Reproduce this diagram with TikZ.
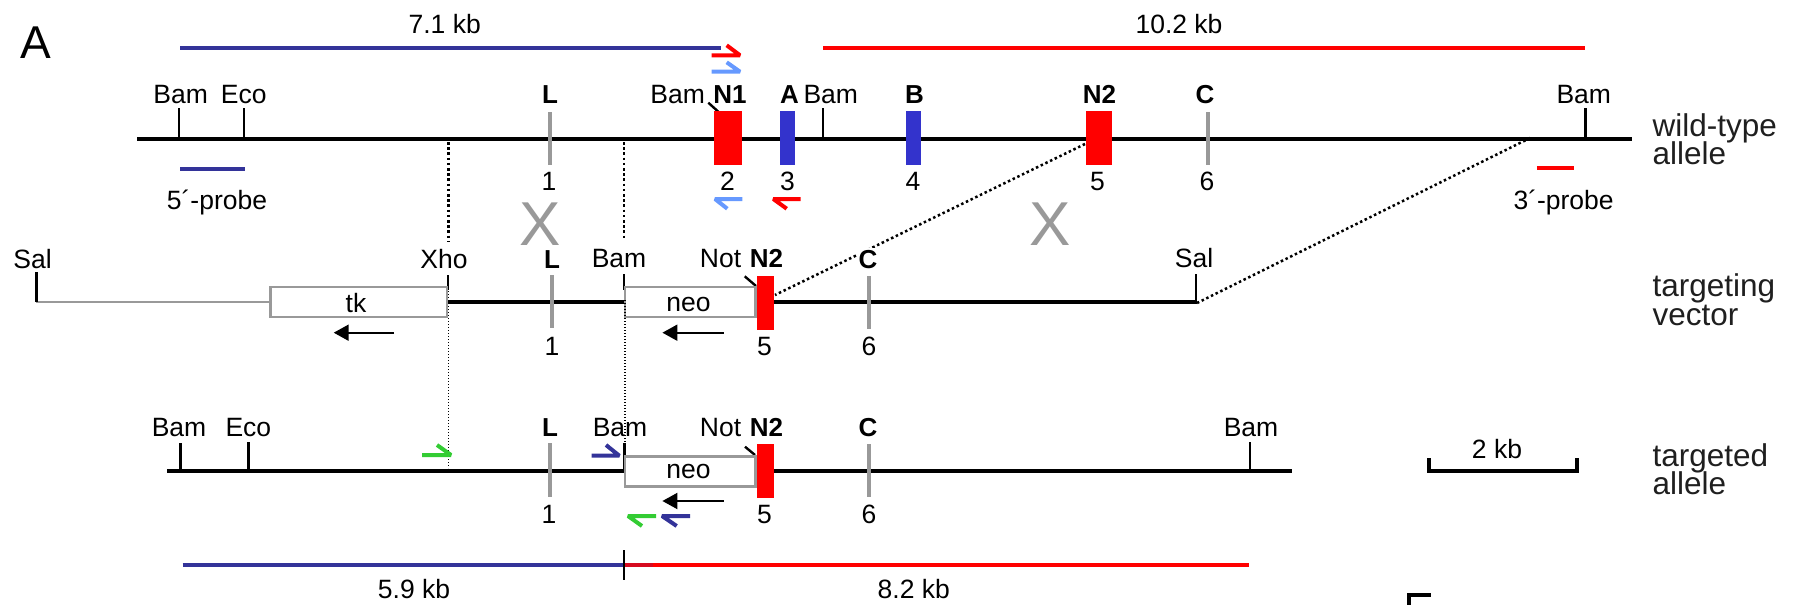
\documentclass[tikz,border=0pt]{standalone}
\usepackage{fontspec}
\setmainfont{Liberation Sans}
\usetikzlibrary{arrows.meta}
\tikzset{
  lab/.style={anchor=base,inner sep=0pt,font=\fontsize{26.5}{26.5}\selectfont},
  blab/.style={anchor=base,inner sep=0pt,font=\fontsize{26}{26}\selectfont\bfseries},
  sidelab/.style={anchor=base west,inner sep=0pt,text=black!88,font=\fontsize{31.5}{31.5}\selectfont},
  cross/.style={anchor=base,inner sep=0pt,text=xgray,font=\fontsize{62}{62}\selectfont},
  dna/.style={line width=4pt,black},
  site/.style={line width=2.4pt,black},
  bar/.style={line width=4pt,xgray},
  exon/.style={draw=none,inner sep=0pt,minimum width=#1,minimum height=54pt,anchor=center},
  cassette/.style={draw=xgray,line width=2.8pt,fill=white,inner sep=0pt,minimum height=30pt,anchor=center},
  frag/.style={line width=4pt},
  primer/.style={line width=4pt,line join=bevel},
  gapdot/.style={line width=2.5pt,dash pattern=on 2.5pt off 2.7pt},
  thindot/.style={line width=1.4pt,dash pattern=on 1.4pt off 1.6pt},
  dir/.style={line width=2pt,black,-{Triangle[length=15pt,width=16pt]}},
}
\definecolor{xgray}{HTML}{999999}
\definecolor{fragblue}{HTML}{333399}
\definecolor{exblue}{HTML}{3333CC}
\definecolor{ltblue}{HTML}{6699FF}
\definecolor{pgreen}{HTML}{33CC33}
\begin{document}
\begin{tikzpicture}[x=1pt,y=-1pt]
\useasboundingbox (0,0) rectangle (1802,605);
\node[anchor=base,inner sep=0pt,font=\fontsize{46}{46}\selectfont] (panelA) at (36,58) {A};
% top fragments
\draw[frag,fragblue] (180,48) -- (720.5,48);
\draw[frag,red] (823,48) -- (1584.6,48);
\node[lab] (kb71) at (444.7,33) {7.1 kb};
\node[lab] (kb102) at (1179,33) {10.2 kb};
\draw[primer,red] (711.7,55.3) -- (740,55.3) -- (726.7,45.3);
\draw[primer,ltblue] (711.7,71.7) -- (740,71.7) -- (726.7,62.3);
% dotted connectors (under everything)
\coordinate (d1a) at (448.5,142); \coordinate (d1b) at (448.5,242);
\coordinate (d2a) at (624,142); \coordinate (d2b) at (624,240);
\draw[gapdot] (d1a) -- (d1b);
\draw[gapdot] (d2a) -- (d2b);
\coordinate (d3a) at (1085,144); \coordinate (d3b) at (775,295);
\coordinate (d4a) at (1530,138); \coordinate (d4b) at (1197,303);
\draw[gapdot] (d3a) -- (d3b);
\draw[gapdot] (d4a) -- (d4b);
% wild-type allele
\draw[dna] (137,138.7) -- (1632.4,138.7);
\draw[site] (178.7,108) -- (178.7,138);
\draw[site] (243.8,108) -- (243.8,138);
\draw[site] (822.7,108) -- (822.7,138);
\draw[site] (1585.4,108) -- (1585.4,138);
\draw[site] (708.3,102.7) -- (718.3,111.7);
\draw[bar] (550,112) -- (550,165);
\draw[bar] (1207.7,112) -- (1207.7,165);
\node[exon=28pt,fill=red] (exN1) at (728,138) {};
\node[exon=15pt,fill=exblue] (exA) at (787.5,138) {};
\node[exon=15pt,fill=exblue] (exB) at (913.5,138) {};
\node[exon=26pt,fill=red] (exN2) at (1099,138) {};
\node[lab] (wBam1) at (180.6,103) {Bam};
\node[lab] (wEco) at (243.8,103) {Eco};
\node[blab] (wL) at (550,103) {L};
\node[lab] (wBam2) at (677.7,103) {Bam};
\node[blab] (wN1) at (730,103) {N1};
\node[blab] (wA) at (789.4,103) {A};
\node[lab] (wBam3) at (830.8,103) {Bam};
\node[blab] (wB) at (914.6,103) {B};
\node[blab] (wN2) at (1099.4,103) {N2};
\node[blab] (wC) at (1205,103) {C};
\node[lab] (wBam4) at (1583.8,103) {Bam};
\node[lab] (w1) at (549,190) {1};
\node[lab] (w2) at (727.4,190) {2};
\node[lab] (w3) at (787.5,190) {3};
\node[lab] (w4) at (913,190) {4};
\node[lab] (w5) at (1097.5,190) {5};
\node[lab] (w6) at (1207,190) {6};
\draw[primer,ltblue] (742.3,199) -- (715,199) -- (727.3,208.7);
\draw[primer,red] (800.7,199) -- (773.3,199) -- (786.7,208.7);
\draw[frag,fragblue] (180,169) -- (245,169);
\node[lab] (p5) at (217,209) {5´-probe};
\draw[frag,red] (1536.8,167.7) -- (1574.3,167.7);
\node[lab] (p3) at (1563.6,209) {3´-probe};
\node[cross] (x1) at (540,245) {X};
\node[cross] (x2) at (1049.7,245) {X};
% targeting vector
\draw[line width=2.8pt,xgray] (36.4,302) -- (270.6,302);
\draw[dna] (447,302) -- (625,302);
\draw[dna] (774,302) -- (1197,302);
\draw[site] (36.4,272) -- (36.4,302);
\draw[site] (447.8,275) -- (447.8,290);
\draw[site] (624,274) -- (624,290);
\draw[site] (1196,274) -- (1196,303);
\draw[site] (744.7,276.3) -- (756,286);
\draw[bar] (552,275) -- (552,328);
\draw[bar] (869.4,276) -- (869.4,329);
\node[cassette,minimum width=176.4pt] (tk) at (358.8,302) {};
\node[cassette,minimum width=130.8pt] (neoV) at (690.4,302) {};
\node[exon=17pt,fill=red] (vN2) at (765.5,303) {};
\node[lab] at (356,312.7) {tk};
\node[lab] at (688.4,311) {neo};
\coordinate (ta) at (394,332.7); \coordinate (tb) at (333.7,332.7);
\coordinate (na) at (723.6,332.7); \coordinate (nb) at (662.4,332.7);
\draw[dir] (ta) -- (tb);
\draw[dir] (na) -- (nb);
\node[lab] (vSal1) at (32.5,268) {Sal};
\node[lab] (vXho) at (444,268) {Xho};
\node[blab] (vL) at (552,268) {L};
\node[lab] (vBam) at (619,267.5) {Bam};
\node[lab] (vNot) at (720.5,267.5) {Not};
\node[blab] (vN2l) at (766.5,267.5) {N2};
\node[blab,fill=white,inner sep=1.5pt] (vC) at (868,268) {C};
\node[lab] (vSal2) at (1194,267.5) {Sal};
\node[lab] (v1) at (552,355) {1};
\node[lab] (v5) at (764.6,355) {5};
\node[lab] (v6) at (869,355) {6};
% fine dotted
\coordinate (f1a) at (448.5,276); \coordinate (f1b) at (448.5,468);
\coordinate (f2a) at (625,300); \coordinate (f2b) at (625,445);
\draw[thindot] (f1a) -- (f1b);
\draw[thindot] (f2a) -- (f2b);
% targeted allele
\draw[dna] (167,471) -- (625,471);
\draw[dna] (774,471) -- (1291.8,471);
\draw[site] (180.6,443) -- (180.6,471);
\draw[site] (248.4,442) -- (248.4,471);
\draw[site] (624.3,443) -- (624.3,471);
\draw[site] (1250,442) -- (1250,471);
\draw[site] (745,446.7) -- (755,455);
\draw[bar] (550,443) -- (550,496.7);
\draw[bar] (869.4,444) -- (869.4,497);
\node[cassette,minimum width=130.7pt] (neoT) at (690.3,471.2) {};
\node[exon=17pt,fill=red] (tN2) at (765.5,470.8) {};
\node[lab] at (688.4,478) {neo};
\coordinate (ma) at (723.6,501); \coordinate (mb) at (662.4,501);
\draw[dir] (ma) -- (mb);
\node[lab] (tBam1) at (179,436.7) {Bam};
\node[lab] (tEco) at (248.4,436.7) {Eco};
\node[blab] (tL) at (550,436.7) {L};
\node[lab] (tBam2) at (620,436.7) {Bam};
\node[lab] (tNot) at (720.5,436.7) {Not};
\node[blab] (tN2) at (766.5,436.7) {N2};
\node[blab] (tC) at (868,436.7) {C};
\node[lab] (tBam3) at (1251,436.7) {Bam};
\node[lab] (t1) at (549,523) {1};
\node[lab] (t5) at (764.6,523) {5};
\node[lab] (t6) at (869,523) {6};
\draw[primer,pgreen] (422,455) -- (451,455) -- (437,445);
\draw[primer,fragblue] (591.7,455.7) -- (619.3,455.7) -- (606,445);
\draw[primer,pgreen] (656,516) -- (628,516) -- (642,526);
\draw[primer,fragblue] (690,516) -- (662,516) -- (676.7,526);
% bottom fragments
\draw[frag,fragblue] (182.5,565) -- (624,565);
\draw[frag,red] (624,565) -- (1249,565);
\draw[frag,red!80!fragblue] (624,565) -- (653,565);
\draw[site] (624,550) -- (624,580);
\node[lab] (kb59) at (414,598) {5.9 kb};
\node[lab] (kb82) at (913.8,598) {8.2 kb};
% scale bar
\draw[line width=4pt] (1428.5,458) -- (1428.5,471) -- (1577,471) -- (1577,458);
\node[lab] (scale) at (1497,458) {2 kb};
% side labels
\node[sidelab] (s1a) at (1652.4,136) {wild-type};
\node[sidelab] (s1b) at (1652.4,164) {allele};
\node[sidelab] (s2a) at (1652.4,296.7) {targeting};
\node[sidelab] (s2b) at (1652.4,325) {vector};
\node[sidelab] (s3a) at (1652.4,466.7) {targeted};
\node[sidelab] (s3b) at (1652.4,494) {allele};
% cropped letter at bottom edge
\draw[line width=4pt] (1408.7,605) -- (1408.7,594.5) -- (1431,594.5);
\end{tikzpicture}
\end{document}
